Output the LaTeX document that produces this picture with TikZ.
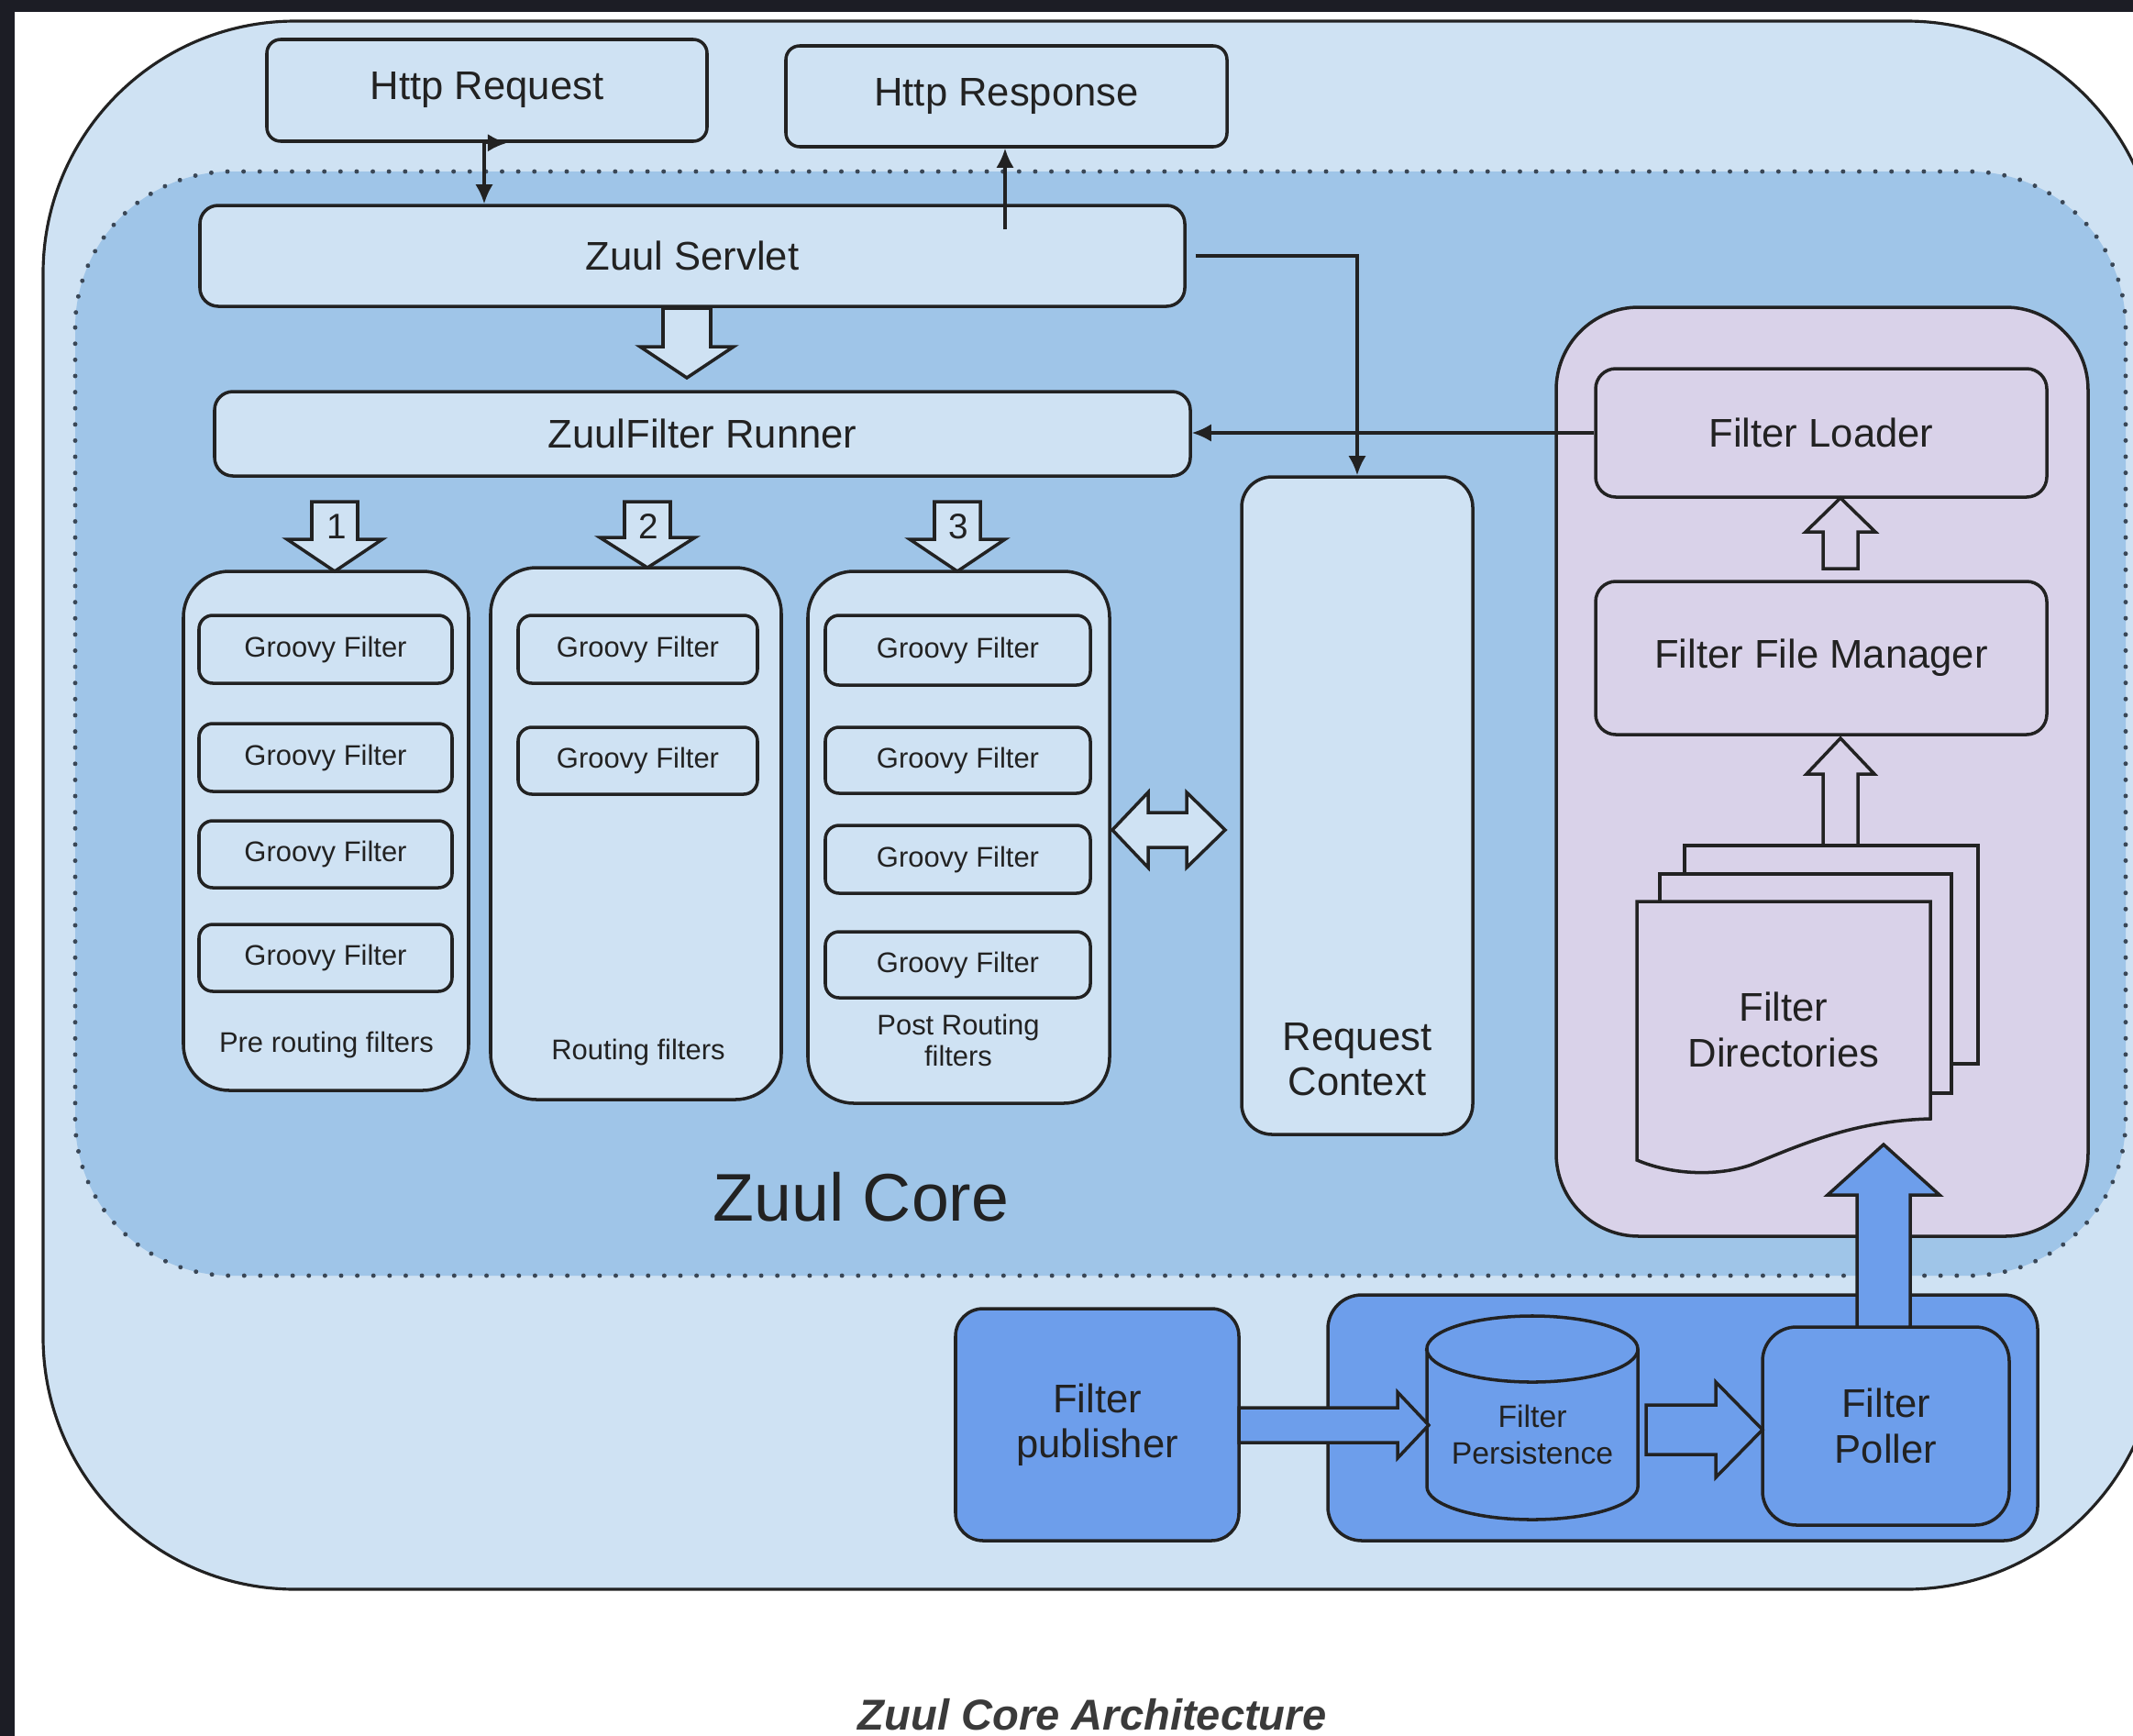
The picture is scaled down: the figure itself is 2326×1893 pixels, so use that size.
\documentclass[tikz,border=0pt]{standalone}
\usepackage{fontspec}
\setmainfont{Liberation Sans}
\usetikzlibrary{fit,arrows.meta}

\definecolor{outerbg}{HTML}{CFE2F3}
\definecolor{corebg}{HTML}{9FC5E8}
\definecolor{boxbg}{HTML}{CFE2F3}
\definecolor{lav}{HTML}{D9D2E9}
\definecolor{blu}{HTML}{6D9EEB}
\definecolor{ink}{HTML}{222222}
\definecolor{dotc}{HTML}{3A4756}
\definecolor{framec}{HTML}{1C1D25}
\definecolor{capgray}{HTML}{3A3A3A}

\newcommand\fmain{\fontsize{12.4}{14}\selectfont}
\newcommand\fsmall{\fontsize{8.8}{9.7}\selectfont}
\newcommand\fpers{\fontsize{9.6}{11.4}\selectfont}
\newcommand\fbig{\fontsize{20.9}{25}\selectfont}
\newcommand\fcap{\fontsize{13.4}{16}\selectfont\bfseries\itshape}
\newcommand\fdigit{\fontsize{11}{13}\selectfont}

% vertical block arrow: style, cx, shaft end y, head base y, tip y, shaft half, head half
\newcommand\zvert[7]{\draw[#1] ({#2-#6},#3) -- ({#2+#6},#3) -- ({#2+#6},#4) -- ({#2+#7},#4) -- (#2,#5) -- ({#2-#7},#4) -- ({#2-#6},#4) -- cycle;}
% horizontal block arrow: style, cy, shaft start x, head base x, tip x, shaft half, head half
\newcommand\zhorz[7]{\draw[#1] (#3,{#2-#6}) -- (#4,{#2-#6}) -- (#4,{#2-#7}) -- (#5,#2) -- (#4,{#2+#7}) -- (#4,{#2+#6}) -- (#3,{#2+#6}) -- cycle;}

\begin{document}
\begin{tikzpicture}[x=0.01cm,y=-0.01cm,
  rbox/.style={draw=ink, line width=1pt, fill=boxbg, rounded corners=#1, inner sep=0pt},
  rbox/.default=0.15cm,
  lbl/.style={text=ink, align=center, inner sep=0pt},
  hollow/.style={draw=ink, line width=1pt, fill=boxbg, line join=miter},
  bluearrow/.style={draw=ink, line width=1pt, fill=blu, line join=miter},
  doc/.style={draw=ink, line width=1pt, fill=lav, line join=miter},
  conn/.style={draw=ink, line width=0.9pt, -{Latex[length=6pt,width=5.5pt]}},
  dotline/.style={draw=dotc, line width=1.4pt, dash pattern=on 0.01pt off 5pt, line cap=round}
]
\useasboundingbox (0,0) rectangle (2326,1893);
\fill[white] (0,0) rectangle (2326,1893);
\fill[framec] (0,0) rectangle (2326,13);
\fill[framec] (0,0) rectangle (16,1893);

\begin{scope}
  \clip (16,13) rectangle (2326,1893);
  \draw[draw=ink, line width=0.9pt, fill=outerbg, rounded corners=2.75cm] (47,23) rectangle (2354,1733);
\end{scope}

% Zuul core area
\path[fill=corebg, rounded corners=1.7cm] (82,187) rectangle (2318,1391);
\draw[dotline, rounded corners=1.7cm] (82,187) rectangle (2318,1391);

% top boxes
\node[rbox, fit={(291,43)(771,154)}] (req) {};
\node[lbl, font=\fmain] (reqt) at (req.center) {Http Request};
\node[rbox, fit={(857,50)(1338,160)}] (resp) {};
\node[lbl, font=\fmain] (respt) at (resp.center) {Http Response};
\node[rbox=0.2cm, fit={(218,224)(1292,334)}] (servlet) {};
\node[lbl, font=\fmain] (servlett) at (servlet.center) {Zuul Servlet};
\node[rbox=0.2cm, fit={(234,427)(1298,519)}] (runner) {};
\node[lbl, font=\fmain] (runnert) at (runner.center) {ZuulFilter Runner};

% servlet -> runner block arrow
\zvert{hollow}{749}{336}{378}{412}{26}{51}

% request context
\node[rbox=0.33cm, fit={(1354,520)(1606,1237)}] (ctx) {};
\node[lbl, font=\fmain] (ctxlabel) at (1480,1155) {Request\\Context};

% filter columns
\node[rbox=0.5cm, fit={(200,623)(511,1189)}] (precol) {};
\node[rbox=0.5cm, fit={(535,619)(852,1199)}] (routecol) {};
\node[rbox=0.5cm, fit={(881,623)(1210,1203)}] (postcol) {};

\foreach \nm/\xa/\ya/\xb/\yb in {pre1/217/671/493/745, pre2/217/789/493/863, pre3/217/895/493/968, pre4/217/1008/493/1081,
    rt1/565/671/826/745, rt2/565/793/826/866,
    post1/900/671/1189/747, post2/900/793/1189/865, post3/900/900/1189/974, post4/900/1016/1189/1088}{
  \node[rbox=0.15cm, fit={(\xa,\ya)(\xb,\yb)}] (\nm) {};
  \node[lbl, font=\fsmall] (\nm t) at (\nm.center) {Groovy Filter};
}
\node[lbl, font=\fsmall] (prelabel) at (356,1139) {Pre routing filters};
\node[lbl, font=\fsmall] (rtlabel) at (696,1147) {Routing filters};
\node[lbl, font=\fsmall] (postlabel) at (1045,1134) {Post Routing\\filters};

% numbered block arrows
\zvert{hollow}{365}{547}{588}{623}{25}{52}
\zvert{hollow}{706}{547}{586}{619}{25}{52}
\zvert{hollow}{1044}{547}{588}{623}{25}{52}
\node[lbl, font=\fdigit] (n1) at (367,574) {1};
\node[lbl, font=\fdigit] (n2) at (707,574) {2};
\node[lbl, font=\fdigit] (n3) at (1045,574) {3};

% double arrow between post filters and request context
\draw[hollow] (1213,905) -- (1252,864) -- (1252,886) -- (1294,886) -- (1294,864) -- (1336,905)
  -- (1294,946) -- (1294,924) -- (1252,924) -- (1252,946) -- cycle;

% Zuul Core label
\node[lbl, font=\fbig] (corelabel) at (939,1305) {Zuul Core};

% filter management group
\node[rbox=0.9cm, fill=lav, fit={(1697,335)(2277,1348)}] (fgroup) {};
\node[rbox=0.22cm, fill=lav, fit={(1740,402)(2232,542)}] (loader) {};
\node[lbl, font=\fmain] (loadert) at (loader.center) {Filter Loader};
\node[rbox=0.22cm, fill=lav, fit={(1740,634)(2232,801)}] (ffm) {};
\node[lbl, font=\fmain] (ffmt) at (ffm.center) {Filter File Manager};
\zvert{hollow, fill=lav}{2007}{620}{580}{543}{19}{38}
\zvert{hollow, fill=lav}{2007}{922}{844}{805}{19}{37}

% filter directories (stack of documents)
\draw[doc] (1837,922) rectangle (2157,1160);
\draw[doc] (1810,953) rectangle (2128,1192);
\draw[doc] (1785,983) -- (2105,983) -- (2105,1220)
  .. controls (2020,1222) and (1960,1250) .. (1910,1270)
  .. controls (1870,1284) and (1820,1280) .. (1785,1265) -- cycle;
\node[lbl, font=\fmain] (fdir) at (1945,1123) {Filter\\Directories};

% connectors
\coordinate (rx) at (528,0);
\coordinate (rq) at (rx |- req.south);
\draw[conn] (rq) -- (rx |- servlet.north);
\draw[conn] ([yshift=-1.5mm]rq) |- ([xshift=2.5mm]rq);
\coordinate (rs0) at (1096,250);
\draw[conn] (rs0) -- (rs0 |- resp.south);
\draw[conn] ([xshift=1mm]servlet.east) -| (ctx.north);
\draw[conn] (loader.west) -- (runner.east |- loader.west);

% bottom: publisher / persistence / poller
\node[rbox=0.3cm, fill=blu, fit={(1042,1427)(1351,1680)}] (pub) {};
\node[lbl, font=\fmain] (pubt) at (pub.center) {Filter\\publisher};
\node[rbox=0.37cm, fill=blu, fit={(1448,1412)(2222,1680)}] (pcont) {};
\draw[draw=ink, line width=1pt, fill=blu] (1556,1471) -- (1556,1621)
  arc[start angle=180, end angle=360, x radius=1.15cm, y radius=0.36cm]
  -- (1786,1471)
  arc[start angle=0, end angle=180, x radius=1.15cm, y radius=0.36cm] -- cycle;
\draw[draw=ink, line width=1pt] (1556,1471) arc[start angle=180, end angle=360, x radius=1.15cm, y radius=0.36cm];
\node[lbl, font=\fpers] (pers) at (1671,1564) {Filter\\Persistence};
\node[rbox=0.37cm, fill=blu, fit={(1922,1447)(2191,1663)}] (poller) {};
\node[lbl, font=\fmain] (pollert) at (poller.center) {Filter\\Poller};

\zhorz{bluearrow}{1554}{1351}{1524}{1558}{19}{36}
\zhorz{bluearrow}{1559}{1795}{1871}{1922}{27}{52}
\zvert{bluearrow}{2054}{1447}{1303}{1248}{29}{61}

% caption
\node[lbl, font=\fcap, text=capgray] (caption) at (1191,1870) {Zuul Core Architecture};
\end{tikzpicture}
\end{document}
